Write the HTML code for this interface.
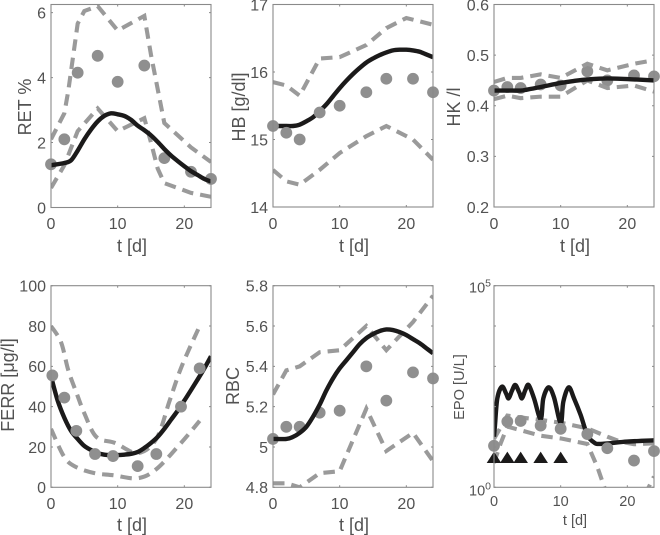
<!DOCTYPE html>
<html>
<head>
<meta charset="utf-8">
<title>Time course panels</title>
<style>
html,body{margin:0;padding:0;background:#fff;}
#fig{display:block;width:660px;height:535px;}
text{font-family:"Liberation Sans",Arial,sans-serif;fill:#525252;}
</style>
</head>
<body>
<svg id="fig" width="660" height="535" viewBox="0 0 660 535" xmlns="http://www.w3.org/2000/svg"></svg>
<script>
// Shared sampling days of the measurements
const days = [0, 2, 4, 7, 10, 14, 17, 21, 24];
const xTicks = [0, 10, 20];

// RET
const retDots = [1.33, 2.1, 4.15, 4.67, 3.87, 4.37, 1.52, 1.1, 0.88];
const retUpperT = [0, 2, 2.6, 4, 5, 7, 10, 14, 15, 17, 21, 24];
const retUpper = [2.1, 2.9, 3.6, 5.66, 6.05, 6.2, 5.45, 5.9, 4.7, 2.6, 1.85, 1.4];
const retLowerT = [0, 2, 4, 7, 10, 14, 15, 16, 17, 21, 24];
const retLower = [0.6, 1.3, 2.35, 3.05, 2.35, 2.75, 2.0, 1.2, 0.75, 0.45, 0.33];
const retFitT = [0, 2, 3, 4, 5, 6, 7, 8, 9, 10, 11, 12, 13, 14, 15, 16, 17, 18, 19, 20, 21, 22, 23, 24];
const retFit = [1.3, 1.37, 1.45, 1.75, 2.1, 2.4, 2.65, 2.82, 2.9, 2.87, 2.82, 2.7, 2.52, 2.38, 2.22, 2.02, 1.8, 1.6, 1.43, 1.27, 1.12, 1.0, 0.88, 0.8];
const retTicks = [0, 2, 4, 6];

// HB
const hbDots = [15.2, 15.1, 15, 15.4, 15.5, 15.7, 15.9, 15.9, 15.7];
const hbUpperT = [0, 2, 4, 7, 10, 14, 17, 20, 24];
const hbUpper = [15.85, 15.8, 15.65, 16.2, 16.22, 16.4, 16.65, 16.8, 16.7];
const hbLower = [14.55, 14.38, 14.33, 14.55, 14.8, 15.05, 15.2, 15.0, 14.7];
const hbFitT = [0, 2, 3, 4, 5, 6, 7, 8, 9, 10, 11, 12, 13, 14, 15, 16, 17, 18, 19, 20, 21, 22, 23, 24];
const hbFit = [15.2, 15.2, 15.2, 15.22, 15.27, 15.33, 15.42, 15.52, 15.64, 15.76, 15.87, 15.97, 16.06, 16.14, 16.2, 16.25, 16.29, 16.32, 16.33, 16.33, 16.32, 16.3, 16.26, 16.22];
const hbTicks = [14, 15, 16, 17];

// HK
const hkDots = [0.43, 0.437, 0.435, 0.442, 0.44, 0.468, 0.45, 0.46, 0.458];
const hkUpper = [0.447, 0.455, 0.455, 0.462, 0.455, 0.483, 0.47, 0.483, 0.49];
const hkLower = [0.413, 0.42, 0.415, 0.418, 0.418, 0.45, 0.435, 0.44, 0.428];
const hkFitT = [0, 2, 4, 5, 7, 10, 12, 14, 17, 21, 24];
const hkFit = [0.43, 0.43, 0.43, 0.432, 0.437, 0.445, 0.449, 0.452, 0.454, 0.452, 0.45];
const hkTicks = [0.2, 0.3, 0.4, 0.5, 0.6];

// FERR
const ferrDotT = [0.2, 2, 3.8, 6.6, 9.3, 13, 15.8, 19.5, 22.3];
const ferrDots = [55.5, 44.5, 28, 16.5, 15.5, 10.5, 16.5, 40, 59];
const ferrUpperT = [0, 1.5, 2.6, 3.85, 5, 6.8, 9.6, 13, 15.8, 17.8, 19.6, 22.3];
const ferrUpper = [80, 72, 58, 46.6, 36.7, 25, 22, 17, 24, 43, 60, 80];
const ferrLowerT = [0, 2, 3.8, 6.6, 9.3, 13, 15.8, 19.5, 22.3];
const ferrLower = [29, 15, 10, 7, 6, 4.5, 9, 22, 33];
const ferrFitT = [0, 1, 2, 3, 4, 5, 6, 7, 8, 9, 10, 11, 12, 13, 14, 15, 16, 17, 18, 19, 20, 21, 22, 23, 24];
const ferrFit = [55, 43, 34.5, 28, 24, 20.5, 18.5, 17, 16.2, 16, 16, 16.2, 16.6, 17.5, 19.5, 22, 25, 29, 33.5, 38, 43, 48.2, 53.5, 59, 65];
const ferrTicks = [0, 20, 40, 60, 80, 100];

// RBC
const rbcDots = [5.04, 5.1, 5.1, 5.17, 5.18, 5.4, 5.23, 5.37, 5.34];
const rbcUpper = [5.26, 5.38, 5.4, 5.47, 5.48, 5.6, 5.48, 5.62, 5.75];
const rbcLower = [4.82, 4.82, 4.8, 4.87, 4.88, 5.19, 4.98, 5.07, 4.93];
const rbcFitT = [0, 2, 3, 4, 5, 6, 7, 8, 9, 10, 11, 12, 13, 14, 15, 16, 17, 18, 19, 20, 21, 22, 23, 24];
const rbcFit = [5.04, 5.04, 5.05, 5.07, 5.1, 5.15, 5.21, 5.28, 5.34, 5.39, 5.43, 5.47, 5.51, 5.54, 5.56, 5.575, 5.583, 5.58, 5.57, 5.555, 5.535, 5.515, 5.49, 5.465];
const rbcTicks = [4.8, 5, 5.2, 5.4, 5.6, 5.8];
const rbcTickLabels = ['4.8', '5', '5.2', '5.4', '5.6', '5.8'];

// EPO (log axis)
const epoDots = [10.7, 42.7, 44.2, 33.9, 28.2, 20.9, 9.3, 4.6, 7.9];
const epoUpperT = [0, 2, 4, 7, 10, 14, 17, 19, 21, 24];
const epoUpper = [15.8, 60, 54, 47, 40, 29, 18, 13.5, 11.7, 12.3];
const epoLowerT = [0, 1, 2, 4, 7, 10, 14, 15.5, 16.6, 17, 21, 23.2, 24];
const epoLower = [4, 12.3, 32, 26, 19, 16.3, 11.9, 3.2, 0.95, 0.7, 0.3, 1, 1.85];
const epoFitT = [0, 0.15, 0.5, 1.2, 1.8, 2.2, 2.7, 3.2, 3.8, 4.2, 4.7, 5.2, 6, 7, 7.4, 8.2, 9, 10, 10.4, 11.2, 12, 13, 14, 15, 16, 20, 24];
const epoFit = [18, 35, 161, 313, 214, 161, 249, 344, 222, 161, 259, 344, 161, 49, 161, 301, 170, 38.6, 133, 301, 161, 62, 19.8, 13, 11.9, 13.6, 14.6];
const doseDays = [0, 2, 4, 7, 10];
const doseLevel = [5.4, 5.4, 5.4, 5.4, 5.4];
const epoTicks = [1, 10, 100, 1000, 10000, 100000];

const GREY = '#8f8f8f';
const DASH = '#9a9a9a';
const BLACK = '#1b1a1a';
const NS = 'http://www.w3.org/2000/svg';
const fig = document.getElementById('fig');

function mk(tag, attrs, parent) {
  const el = document.createElementNS(NS, tag);
  for (const k in attrs) el.setAttribute(k, attrs[k]);
  parent.appendChild(el);
  return el;
}

function pathFrom(ts, vs, sx, sy) {
  return ts.map((t, i) => (i ? 'L' : 'M') + sx(t).toFixed(2) + ' ' + sy(vs[i]).toFixed(2)).join('');
}

function smoothPath(ts, vs, sx, sy) {
  const P = ts.map((t, i) => [sx(t), sy(vs[i])]);
  let d = 'M' + P[0][0].toFixed(2) + ' ' + P[0][1].toFixed(2);
  for (let i = 0; i < P.length - 1; i++) {
    const a = P[Math.max(i - 1, 0)], b = P[i], c = P[i + 1], e = P[Math.min(i + 2, P.length - 1)];
    const c1x = b[0] + (c[0] - a[0]) / 6, c1y = b[1] + (c[1] - a[1]) / 6;
    const c2x = c[0] - (e[0] - b[0]) / 6, c2y = c[1] - (e[1] - b[1]) / 6;
    d += 'C' + c1x.toFixed(2) + ' ' + c1y.toFixed(2) + ' ' + c2x.toFixed(2) + ' ' + c2y.toFixed(2) + ' ' + c[0].toFixed(2) + ' ' + c[1].toFixed(2);
  }
  return d;
}

function drawPanel(p) {
  const g = mk('g', {}, fig);
  
  
  const x0 = p.box[0], x1 = p.box[1], yTop = p.box[2], yBot = p.box[3];
  const sx = t => x0 + (t / 24) * (x1 - x0);
  const tf = p.log ? Math.log10 : (v => v);
  const sy = v => yBot - (tf(v) - tf(p.ylim[0])) / (tf(p.ylim[1]) - tf(p.ylim[0])) * (yBot - yTop);

  const clipId = p.id + '-clip';
  const defs = mk('defs', {}, g);
  const cp = mk('clipPath', { id: clipId }, defs);
  mk('rect', { x: x0, y: yTop, width: x1 - x0, height: yBot - yTop }, cp);

  function drawDots() {
    p.dotT.forEach((t, i) => {
      const c = mk('circle', { cx: sx(t), cy: sy(p.dots[i]), r: 5.9, fill: GREY }, g);
      
      
    });
  }

  if (!p.dotsOnTop) drawDots();
  const dashFn = p.smoothDash ? smoothPath : pathFrom;
  const up = mk('path', { d: dashFn(p.upT, p.up, sx, sy), fill: 'none', stroke: DASH, 'stroke-width': 4.1, 'stroke-dasharray': '11.5 7', 'clip-path': 'url(#' + clipId + ')' }, g);
  
  
  const lo = mk('path', { d: dashFn(p.loT, p.lo, sx, sy), fill: 'none', stroke: DASH, 'stroke-width': 4.1, 'stroke-dasharray': '11.5 7', 'clip-path': 'url(#' + clipId + ')' }, g);
  
  
  const fit = mk('path', { d: smoothPath(p.fitT, p.fit, sx, sy), fill: 'none', stroke: BLACK, 'stroke-width': 4.4, 'stroke-linejoin': 'round', 'clip-path': 'url(#' + clipId + ')' }, g);
  
  
  if (p.dotsOnTop) drawDots();

  if (p.doses) {
    p.doses.forEach((t, i) => {
      const cx = sx(t), cy = sy(p.doseY[i]);
      const tri = mk('polygon', { points: (cx - 7.3) + ',' + (cy + 5.2) + ' ' + (cx + 7.3) + ',' + (cy + 5.2) + ' ' + cx + ',' + (cy - 6.2), fill: BLACK }, g);
      
      
    });
  }

  // frame
  const frame = mk('rect', { x: x0, y: yTop, width: x1 - x0, height: yBot - yTop, fill: 'none', stroke: '#8a8a8a', 'stroke-width': 1.1 }, g);
  
  

  // x ticks
  xTicks.forEach(t => {
    const X = sx(t);
    mk('path', { d: 'M' + X + ' ' + yBot + 'v-2M' + X + ' ' + yTop + 'v2', stroke: '#8a8a8a', 'stroke-width': 1 }, g);
    const lab = mk('text', { x: X, y: p.xTickY, 'text-anchor': 'middle', 'font-size': p.tickSize }, g);
    lab.textContent = t;
    
    
  });
  const xt = mk('text', { x: (x0 + x1) / 2 + 1, y: p.xLabelY, 'text-anchor': 'middle', 'font-size': p.labelSize }, g);
  xt.textContent = 't [d]';
  
  

  // y ticks
  p.yTicks.forEach((v, i) => {
    const Y = sy(v);
    mk('path', { d: 'M' + x0 + ' ' + Y + 'h2M' + x1 + ' ' + Y + 'h-2', stroke: '#8a8a8a', 'stroke-width': 1 }, g);
    if (p.log) return;
    const lab = mk('text', { x: x0 - 5, y: Y + 5.8, 'text-anchor': 'end', 'font-size': p.tickSize }, g);
    lab.textContent = p.yLabels ? p.yLabels[i] : v;
    
    
  });
  if (p.log) {
    [[0, yBot + 8], [5, yTop + 7]].forEach(e => {
      const lab = mk('text', { x: x0 - 3, y: e[1], 'text-anchor': 'end', 'font-size': 14.5 }, g);
      
      
      const a = mk('tspan', {}, lab);
      a.textContent = '10';
      const b = mk('tspan', { dy: -6, 'font-size': 10.5 }, lab);
      b.textContent = e[0];
    });
  }

  // y title
  const yt = mk('text', { transform: 'translate(' + p.yLabelX + ' ' + p.yLabelY + ') rotate(-90)', 'text-anchor': 'middle', 'font-size': p.yLabelSize }, g);
  
  
  yt.textContent = p.yLabel;
}

const rowTop = { tickSize: 16, labelSize: 18, yLabelSize: 18, xTickY: 229, xLabelY: 252 };
const rowBot = { tickSize: 16, labelSize: 18, yLabelSize: 18, xTickY: 509, xLabelY: 531 };

drawPanel(Object.assign({}, rowTop, { id: 'ret', box: [51, 211, 4.5, 207.5], ylim: [0, 6.25],
  dotT: days, dots: retDots, upT: retUpperT, up: retUpper, loT: retLowerT, lo: retLower, fitT: retFitT, fit: retFit,
  yTicks: retTicks, yLabel: 'RET %', yLabelX: 31, yLabelY: 107 }));
drawPanel(Object.assign({}, rowTop, { id: 'hb', box: [273, 433, 4.5, 207], ylim: [14, 17], dotsOnTop: true,
  dotT: days, dots: hbDots, upT: hbUpperT, up: hbUpper, loT: days, lo: hbLower, fitT: hbFitT, fit: hbFit,
  yTicks: hbTicks, yLabel: 'HB [g/dl]', yLabelX: 245, yLabelY: 107 }));
drawPanel(Object.assign({}, rowTop, { id: 'hk', box: [494, 654, 4.5, 207], ylim: [0.2, 0.6],
  dotT: days, dots: hkDots, upT: days, up: hkUpper, loT: days, lo: hkLower, fitT: hkFitT, fit: hkFit,
  yTicks: hkTicks, yLabels: ['0.2', '0.3', '0.4', '0.5', '0.6'], yLabel: 'HK /l', yLabelX: 460, yLabelY: 107 }));
drawPanel(Object.assign({}, rowBot, { id: 'ferr', box: [51, 211, 285.7, 487.3], ylim: [0, 100], dotsOnTop: true, smoothDash: true,
  dotT: ferrDotT, dots: ferrDots, upT: ferrUpperT, up: ferrUpper, loT: ferrLowerT, lo: ferrLower, fitT: ferrFitT, fit: ferrFit,
  yTicks: ferrTicks, yLabel: 'FERR [\u03BCg/l]', yLabelX: 14, yLabelY: 385 }));
drawPanel(Object.assign({}, rowBot, { id: 'rbc', box: [273, 433, 285.7, 487.3], ylim: [4.8, 5.8],
  dotT: days, dots: rbcDots, upT: days, up: rbcUpper, loT: days, lo: rbcLower, fitT: rbcFitT, fit: rbcFit,
  yTicks: rbcTicks, yLabels: rbcTickLabels, yLabel: 'RBC', yLabelX: 239, yLabelY: 386 }));
drawPanel(Object.assign({}, rowBot, { id: 'epo', box: [494, 654, 285.7, 487.3], ylim: [1, 100000], log: true, dotsOnTop: true,
  dotT: days, dots: epoDots, upT: epoUpperT, up: epoUpper, loT: epoLowerT, lo: epoLower, fitT: epoFitT, fit: epoFit,
  doses: doseDays, doseY: doseLevel, tickSize: 14.5, labelSize: 14.5, yLabelSize: 14.6, xTickY: 506, xLabelY: 525,
  yTicks: epoTicks, yLabel: 'EPO [U/L]', yLabelX: 464, yLabelY: 387 }));
</script>
</body>
</html>
